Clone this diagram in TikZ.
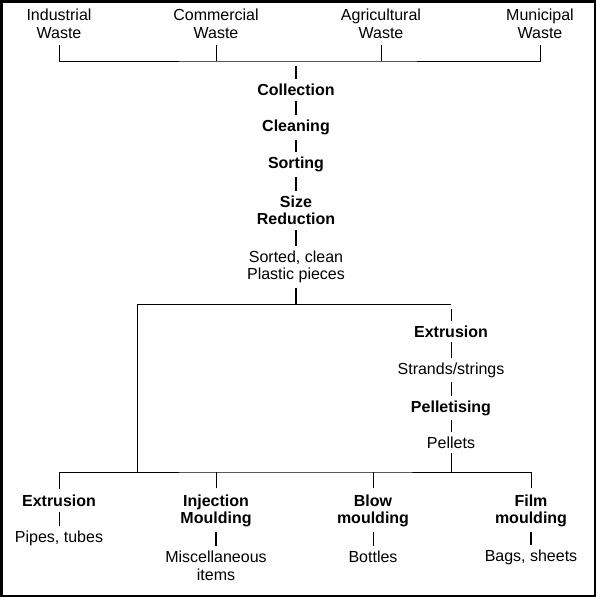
\documentclass[tikz,border=0pt]{standalone}
\usepackage{fontspec}
\setmainfont{Liberation Sans}
\tikzset{
  lbl/.style={inner sep=0pt, align=center, font=\fontsize{16}{17.5}\selectfont},
  stage/.style={lbl, font=\fontsize{16}{17.5}\selectfont\bfseries},
  tick/.style={shorten <=4.5pt, shorten >=4.5pt},
  heavy/.style={tick, line width=1.6pt}
}
\begin{document}
\begin{tikzpicture}[x=1pt,y=-1pt,line width=0.8pt]
\useasboundingbox (0,0) rectangle (596,597);
\draw[line width=2.5pt] (1.25,1.25) rectangle (594.75,595.75);

\node[lbl] (ind) at (59,24) {Industrial\\Waste};
\node[lbl] (com) at (216,24) {Commercial\\Waste};
\node[lbl] (agr) at (381,24) {Agricultural\\Waste};
\node[lbl] (mun) at (540,24) {Municipal\\Waste};
\coordinate (bar1) at (296,61);
\draw[shorten <=6pt, shorten >=6pt] (ind) |- (bar1) -| (mun);
\draw[shorten <=6pt] (com) -- (com |- bar1);
\draw[shorten <=6pt] (agr) -- (agr |- bar1);

\node[stage] (coll) at (296,90) {Collection};
\node[stage] (clean) at (296,127.5) {Cleaning};
\node[stage] (sort) at (296,164.5) {Sorting};
\node[stage] (size) at (296,210.5) {Size\\Reduction};
\node[lbl] (pieces) at (296,267) {Sorted, clean\\Plastic pieces};
\draw[heavy] (bar1) -- (coll);
\draw[heavy] (coll) -- (clean);
\draw[heavy] (clean) -- (sort);
\draw[heavy] (sort) -- (size);
\draw[heavy] (size) -- (pieces);
\coordinate (bar2) at (296,304);
\coordinate (bar2l) at (137,304);
\coordinate (bar2r) at (451,304);
\draw[heavy, shorten >=0pt] (pieces) -- (bar2);
\draw (bar2r) -- (bar2l);

\node[stage] (extr) at (451,331.5) {Extrusion};
\node[lbl] (strands) at (451,370) {Strands/strings};
\node[stage] (pellet) at (451,408) {Pelletising};
\node[lbl] (pellets) at (451,442.5) {Pellets};
\draw[tick] (bar2r) -- (extr);
\draw[tick] (extr) -- (strands);
\draw[tick] (strands) -- (pellet);
\draw[tick] (pellet) -- (pellets);

\coordinate (bar3) at (296,472);
\draw (bar2l) -- (bar2l |- bar3);
\draw[tick, shorten >=0pt] (pellets) -- (pellets |- bar3);

\node[stage] (ext2) at (59,501) {Extrusion};
\node[lbl] (pipes) at (59,538.5) {Pipes, tubes};
\node[stage] (inj) at (216,511) {Injection\\Moulding};
\node[lbl] (misc) at (216,566) {Miscellaneous\\items};
\node[stage] (blow) at (373,511) {Blow\\moulding};
\node[lbl] (bott) at (373,557) {Bottles};
\node[stage] (film) at (531,511) {Film\\moulding};
\node[lbl] (bags) at (531,557.5) {Bags, sheets};
\draw[shorten <=6pt, shorten >=6pt] (ext2) |- (bar3) -| (film);
\draw[shorten <=6pt] (inj) -- (inj |- bar3);
\draw[shorten <=6pt] (blow) -- (blow |- bar3);
\draw[tick] (ext2) -- (pipes);
\draw[heavy] (inj) -- (misc);
\draw[tick] (blow) -- (bott);
\draw[heavy] (film) -- (bags);
\end{tikzpicture}
\end{document}
